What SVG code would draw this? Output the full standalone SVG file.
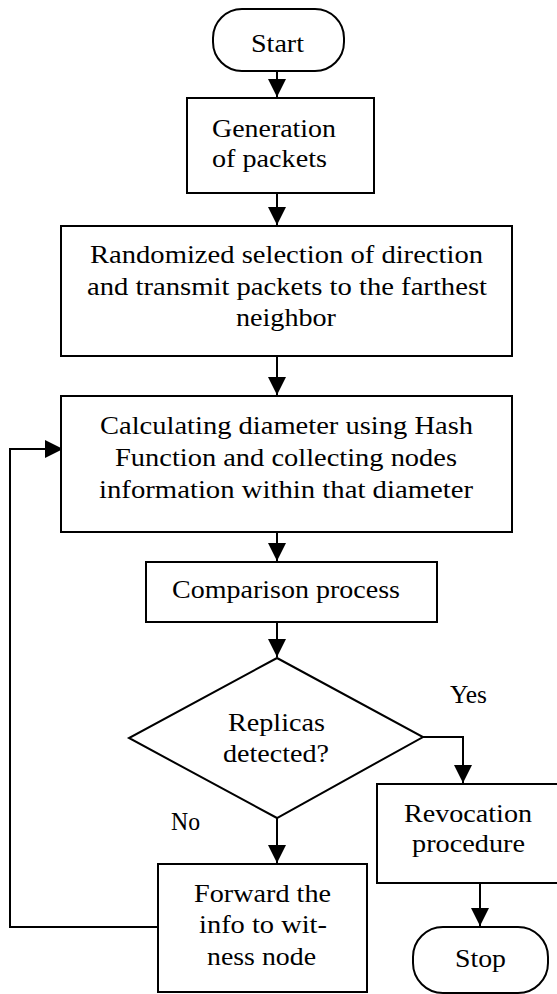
<svg xmlns="http://www.w3.org/2000/svg" width="557" height="994" viewBox="0 0 557 994">
<style>
.shape{fill:#fff;stroke:#000;stroke-width:2}
.conn{fill:none;stroke:#000;stroke-width:2}
text{font-family:"Times New Roman",Times,"Liberation Serif","DejaVu Serif","Noto Serif",FreeSerif,serif;font-size:25.5px;fill:#000}
.c{text-anchor:middle}
</style>
<defs>
<marker id="ah" viewBox="0 0 18 18" refX="18" refY="9" markerWidth="18" markerHeight="18" markerUnits="userSpaceOnUse" orient="auto">
<path d="M0,0 L18,9 L0,18 z" fill="#000"/>
</marker>
</defs>
<rect width="557" height="994" fill="#fff"/>
<g id="connectors">
<path class="conn" d="M277,71 V97" marker-end="url(#ah)"/>
<path class="conn" d="M277,193 V225" marker-end="url(#ah)"/>
<path class="conn" d="M277,356 V395" marker-end="url(#ah)"/>
<path class="conn" d="M277,532 V561" marker-end="url(#ah)"/>
<path class="conn" d="M277,622 V657" marker-end="url(#ah)"/>
<path class="conn" d="M277,818 V863" marker-end="url(#ah)"/>
<path class="conn" d="M423,737 H463 V783" marker-end="url(#ah)"/>
<path class="conn" d="M480,883 V926" marker-end="url(#ah)"/>
<path class="conn" d="M158,927 H10 V449 H63" marker-end="url(#ah)"/>
<text x="450" y="703" textLength="37" lengthAdjust="spacingAndGlyphs">Yes</text>
<text x="171" y="830" textLength="29" lengthAdjust="spacingAndGlyphs">No</text>
</g>
<g id="start">
<rect class="shape" x="213" y="9" width="131" height="62" rx="29" ry="29"/>
<text class="c" x="277.5" y="52" textLength="53" lengthAdjust="spacingAndGlyphs">Start</text>
</g>
<g id="generation">
<rect class="shape" x="187" y="98" width="187" height="95"/>
<text x="212" y="137" textLength="124" lengthAdjust="spacingAndGlyphs">Generation</text>
<text x="212" y="167" textLength="115" lengthAdjust="spacingAndGlyphs">of packets</text>
</g>
<g id="randomized">
<rect class="shape" x="61" y="226" width="451" height="130"/>
<text class="c" x="286.5" y="263" textLength="393" lengthAdjust="spacingAndGlyphs">Randomized selection of direction</text>
<text class="c" x="287" y="295" textLength="400" lengthAdjust="spacingAndGlyphs">and transmit packets to the farthest</text>
<text class="c" x="286" y="326" textLength="100" lengthAdjust="spacingAndGlyphs">neighbor</text>
</g>
<g id="calculating">
<rect class="shape" x="61" y="396" width="451" height="136"/>
<text class="c" x="286.5" y="434" textLength="373" lengthAdjust="spacingAndGlyphs">Calculating diameter using Hash</text>
<text class="c" x="286" y="466" textLength="342" lengthAdjust="spacingAndGlyphs">Function and collecting nodes</text>
<text class="c" x="286" y="498" textLength="374" lengthAdjust="spacingAndGlyphs">information within that diameter</text>
</g>
<g id="comparison">
<rect class="shape" x="146" y="562" width="291" height="60"/>
<text class="c" x="286" y="598" textLength="228" lengthAdjust="spacingAndGlyphs">Comparison process</text>
</g>
<g id="decision">
<polygon class="shape" points="277,658 423,737 277,818 129,738"/>
<text class="c" x="276.5" y="731" textLength="97" lengthAdjust="spacingAndGlyphs">Replicas</text>
<text class="c" x="276" y="762" textLength="106" lengthAdjust="spacingAndGlyphs">detected?</text>
</g>
<g id="forward">
<rect class="shape" x="158" y="864" width="209" height="128"/>
<text class="c" x="262.5" y="902" textLength="137" lengthAdjust="spacingAndGlyphs">Forward the</text>
<text class="c" x="263" y="933" textLength="128" lengthAdjust="spacingAndGlyphs">info to wit-</text>
<text class="c" x="261.5" y="965" textLength="109" lengthAdjust="spacingAndGlyphs">ness node</text>
</g>
<g id="revocation">
<rect class="shape" x="377" y="784" width="185" height="99"/>
<text class="c" x="468" y="822" textLength="128" lengthAdjust="spacingAndGlyphs">Revocation</text>
<text class="c" x="468.5" y="852" textLength="113" lengthAdjust="spacingAndGlyphs">procedure</text>
</g>
<g id="stop">
<rect class="shape" x="413" y="927" width="135" height="66" rx="30" ry="30"/>
<text class="c" x="480.5" y="967" textLength="51" lengthAdjust="spacingAndGlyphs">Stop</text>
</g>
</svg>
